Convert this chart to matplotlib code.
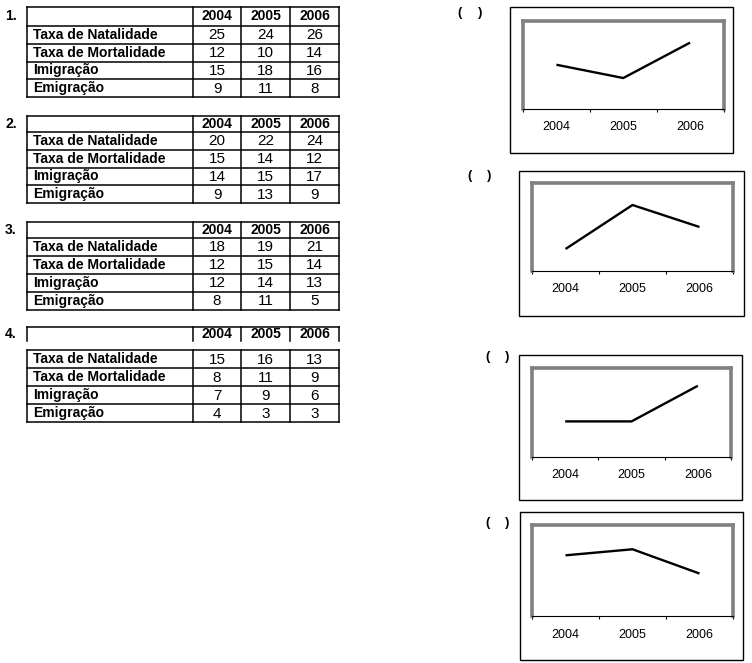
import matplotlib
matplotlib.use("Agg")
import matplotlib.pyplot as plt
from matplotlib.patches import Rectangle

W, H = 752, 663

# table data
row_labels = ["Taxa de Natalidade", "Taxa de Mortalidade", "Imigração", "Emigração"]
years = ["2004", "2005", "2006"]
table1 = [[25, 24, 26], [12, 10, 14], [15, 18, 16], [9, 11, 8]]
table2 = [[20, 22, 24], [15, 14, 12], [14, 15, 17], [9, 13, 9]]
table3 = [[18, 19, 21], [12, 15, 14], [12, 14, 13], [8, 11, 5]]
table4 = [[15, 16, 13], [8, 11, 9], [7, 9, 6], [4, 3, 3]]

# line chart data (one series per small chart)
chart_a = [10, 7, 15]
chart_b = [19, 21, 20]
chart_c = [10, 10, 20]
chart_d = [10, 11, 7]
chart_ylims = [(0, 20), (18, 22), (0, 25), (0, 15)]

plt.rcParams['font.family'] = ['Liberation Sans', 'DejaVu Sans']

fig = plt.figure(figsize=(W / 100, H / 100), dpi=100)
ax = fig.add_axes([0, 0, 1, 1])
ax.set_xlim(0, W)
ax.set_ylim(H, 0)
ax.axis('off')

col_x = [27, 193, 241, 290, 339]
lw = 1.1


def draw_table(num, top, head_h, body_top, row_h, values):
    head_bot = top + head_h
    split = body_top is not None
    if not split:
        body_top = head_bot
    bottom = body_top + 4 * row_h
    ax.plot([col_x[0], col_x[-1]], [top, top], color='black', lw=lw)
    for i in range(5):
        y = body_top + i * row_h
        ax.plot([col_x[0], col_x[-1]], [y, y], color='black', lw=lw)
    for x in col_x:
        if split:
            ax.plot([x, x], [top, head_bot], color='black', lw=lw)
            ax.plot([x, x], [body_top, bottom], color='black', lw=lw)
        else:
            ax.plot([x, x], [top, bottom], color='black', lw=lw)
    ax.text(5, top + head_h / 2, f"{num}.", fontsize=10, fontweight='bold',
            ha='left', va='center')
    for j, yr in enumerate(years):
        ax.text((col_x[j + 1] + col_x[j + 2]) / 2, top + head_h / 2, yr,
                fontsize=10, fontweight='bold', ha='center', va='center')
    for i, lab in enumerate(row_labels):
        yc = body_top + (i + 0.5) * row_h
        ax.text(33, yc, lab, fontsize=10, fontweight='bold', ha='left', va='center')
        for j, v in enumerate(values[i]):
            ax.text((col_x[j + 1] + col_x[j + 2]) / 2, yc + 0.5, str(v),
                    fontsize=11, ha='center', va='center')


draw_table(1, 7, 19, None, 17.75, table1)
draw_table(2, 116, 16, None, 17.75, table2)
draw_table(3, 222, 15.5, None, 18.1, table3)
draw_table(4, 327, 14, 350, 18, table4)


def px_rect(x0, y0, x1, y1):
    return [x0 / W, 1 - y1 / H, (x1 - x0) / W, (y1 - y0) / H]


charts = [chart_a, chart_b, chart_c, chart_d]
outer_boxes = [(510, 7, 733, 153), (519, 171, 744, 316),
               (519, 355, 742, 500), (520, 512, 743, 660)]
plot_boxes = [(523, 20.5, 723.5, 109), (532, 183, 733, 271),
              (532, 368, 731, 457), (532, 525, 733, 616)]
paren_pos = [(457, 478, 13), (467, 487, 176), (485, 505, 357), (485, 505, 523)]

for vals, ob, pb, ylim, pp in zip(charts, outer_boxes, plot_boxes, chart_ylims, paren_pos):
    x0, y0, x1, y1 = ob
    ax.add_patch(Rectangle((x0, y0), x1 - x0, y1 - y0, fill=False,
                           edgecolor='black', lw=1.0))
    ax.text(pp[0], pp[2], "(", fontsize=9.5, fontweight='bold', ha='left', va='center')
    ax.text(pp[1], pp[2], ")", fontsize=9.5, fontweight='bold', ha='left', va='center')

    cax = fig.add_axes(px_rect(*pb))
    cax.plot(range(len(years)), vals, color='black', lw=1.7, solid_capstyle='butt')
    cax.set_xlim(-0.5, len(years) - 0.5)
    cax.set_ylim(*ylim)
    cax.set_yticks([])
    cax.set_xticks(range(len(years)))
    cax.set_xticklabels(years, fontsize=9)
    cax.set_xticks([k - 0.5 for k in range(len(years) + 1)], minor=True)
    cax.tick_params(axis='x', which='major', length=0, pad=9)
    cax.tick_params(axis='x', which='minor', length=2.5, width=0.8, direction='out')
    for side in ['top', 'left', 'right']:
        cax.spines[side].set_color('#808080')
        cax.spines[side].set_linewidth(2.6)
    cax.spines['bottom'].set_color('black')
    cax.spines['bottom'].set_linewidth(0.8)
    cax.spines['bottom'].set_zorder(5)
    cax.patch.set_alpha(0)

fig.savefig("out.png", dpi=100)
